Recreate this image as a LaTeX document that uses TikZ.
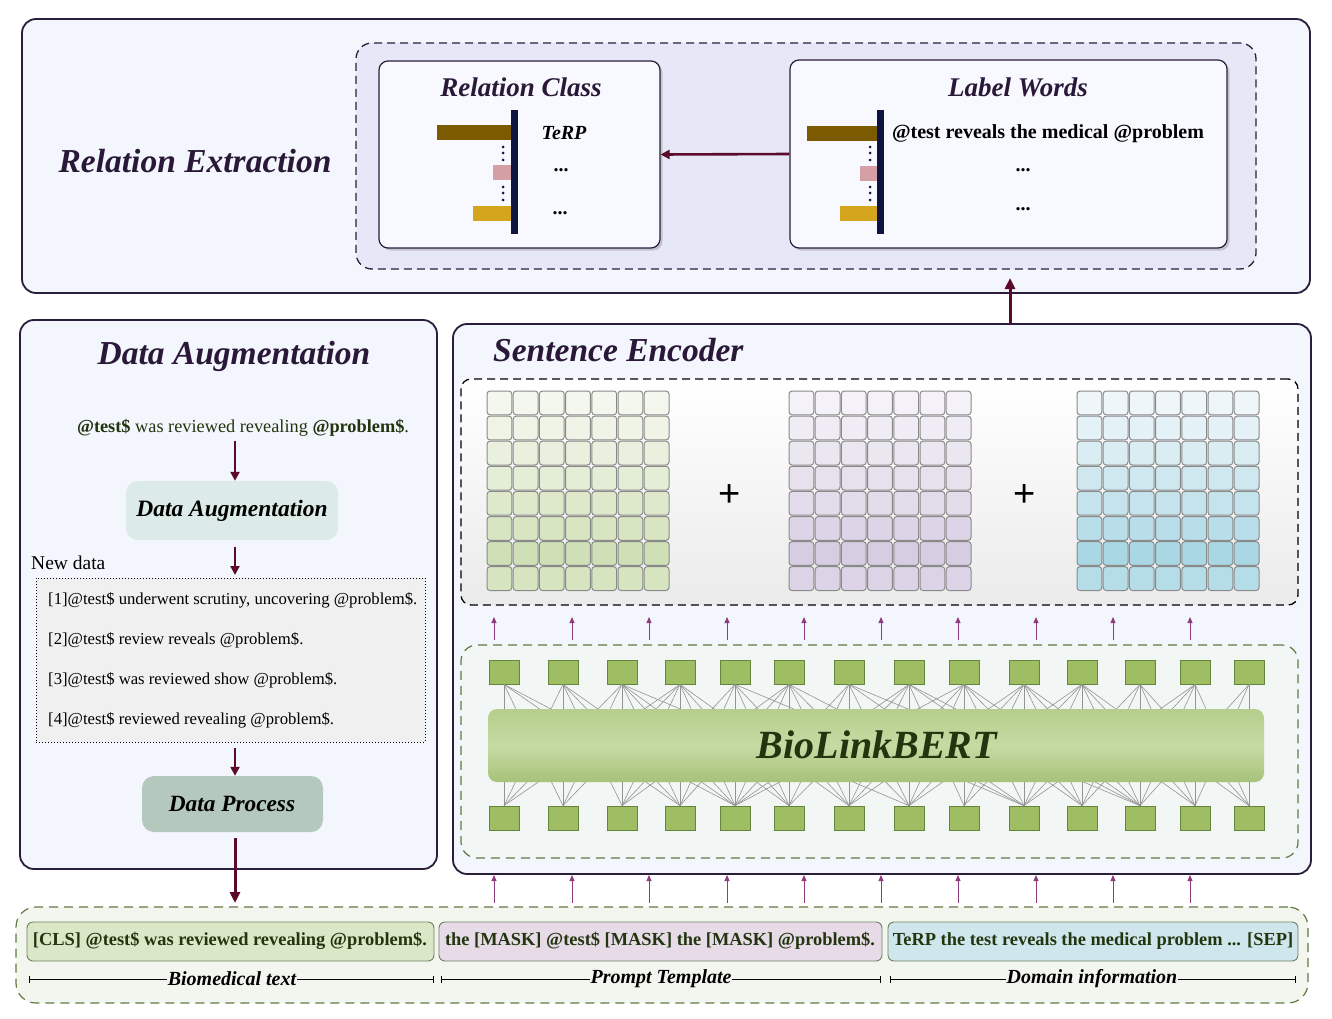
\documentclass[tikz,border=0pt]{standalone}
\usepackage{fontspec}
\setmainfont{Liberation Serif}
\newfontfamily\plusfont{Liberation Sans}
\usetikzlibrary{arrows.meta,shadows}

\definecolor{panelline}{HTML}{2B1D3C}
\definecolor{panelfill}{HTML}{F4F6FD}
\definecolor{lavender}{HTML}{E6E8F7}
\definecolor{cardfill}{HTML}{F8F9FE}
\definecolor{titlecol}{HTML}{2A1838}
\definecolor{maroon}{HTML}{5C0A2A}
\definecolor{arrowpurple}{HTML}{8E3C7E}
\definecolor{brownbar}{HTML}{7B5A00}
\definecolor{pinkbar}{HTML}{D4A0A6}
\definecolor{goldbar}{HTML}{D6A51E}
\definecolor{navybar}{HTML}{0D1440}
\definecolor{sqfill}{HTML}{9FBD63}
\definecolor{sqline}{HTML}{66853C}
\definecolor{bertmid}{HTML}{C6DAA3}
\definecolor{berttop}{HTML}{B5CE8C}
\definecolor{bertbot}{HTML}{A6C279}
\definecolor{textgreen}{HTML}{22350F}
\definecolor{dabox}{HTML}{DCEBE7}
\definecolor{dpbox}{HTML}{B4C8BD}
\definecolor{dotfill}{HTML}{F0F0F0}
\definecolor{botfill}{HTML}{F3F6EE}
\definecolor{botline}{HTML}{5F7A45}
\definecolor{clsfill}{HTML}{DBE8C8}
\definecolor{promptfill}{HTML}{E7DBE7}
\definecolor{domainfill}{HTML}{CFE6EC}
\definecolor{tokline}{HTML}{6F7F5F}
\definecolor{encfill}{HTML}{F2F6F4}
\definecolor{gTop}{HTML}{F4F7EE}
\definecolor{gBot}{HTML}{D0E0B6}
\definecolor{pTop}{HTML}{F4F2F8}
\definecolor{pBot}{HTML}{D7CDE2}
\definecolor{bTop}{HTML}{EEF6FA}
\definecolor{bBot}{HTML}{A9D7E4}
\definecolor{cellline}{HTML}{8A8A8A}

\newcommand\RB[6]{\node[#1, minimum width={(#4)-(#2)}, minimum height={(#5)-(#3)}, inner sep=0pt] (#6) at ({((#2)+(#4))/2},{((#3)+(#5))/2}) {};}
\newcommand\cellgrid[4]{%
 \foreach \r/\p in {0/0,1/15,2/30,3/45,4/60,5/78,6/100,7/82}{%
  \foreach \c in {0,...,6}{%
   \filldraw[cell, fill=#4!\p!#3] ({#1+\c*26.2},{#2+\r*25.1}) rectangle ++(24.8,23.8);
  }}}

\begin{document}
\begin{tikzpicture}[x=1pt,y=-1pt,
  panel/.style={draw=panelline, line width=1.8pt, fill=panelfill, rounded corners=14pt},
  card/.style={draw=panelline, line width=1.2pt, fill=cardfill, rounded corners=9pt,
     drop shadow={shadow xshift=2.5pt, shadow yshift=-2.5pt, opacity=0.35, fill=gray}},
  bigtitle/.style={font=\fontsize{33.5}{38}\selectfont\bfseries\itshape, text=titlecol, inner sep=0pt},
  cardtitle/.style={font=\fontsize{27}{31}\selectfont\bfseries\itshape, text=titlecol, inner sep=0pt},
  bigarrow/.style={draw=maroon, line width=3pt, -{Triangle[length=11pt,width=10pt]}},
  midarrow/.style={draw=maroon, line width=2.6pt, -{Triangle[length=9pt,width=9pt]}},
  smallarr/.style={draw=arrowpurple, line width=0.9pt, -{Triangle[length=6pt,width=5pt]}},
  cell/.style={draw=cellline, line width=1pt, rounded corners=3pt},
  tok/.style={draw=sqline, line width=0.8pt, fill=sqfill, minimum width=30pt, minimum height=24pt, inner sep=0pt},
  conn/.style={draw=gray!85, line width=0.6pt},
  augline/.style={font=\fontsize{16.7}{19}\selectfont, text=black, anchor=west, inner sep=0pt},
  segbox/.style={draw=tokline, line width=0.9pt, rounded corners=6pt},
  segtext/.style={font=\fontsize{18.4}{21}\selectfont\bfseries, text=textgreen, inner sep=0pt},
  dimline/.style={draw=black, line width=0.8pt, {Bar[width=7pt]}-{Bar[width=7pt]}},
  dimlabel/.style={font=\fontsize{20}{23}\selectfont\bfseries\itshape, fill=botfill, inner sep=1pt, text=black},
  dots/.style={font=\fontsize{20}{22}\selectfont\bfseries, inner sep=0pt}
]
\path[fill=white] (0,0) rectangle (1332,1019);
\useasboundingbox (0,0) rectangle (1332,1019);

% ---------------- Relation Extraction ----------------
\RB{panel}{22}{19}{1310}{293}{rep}
\node[bigtitle] (retitle) at (195,161) {Relation Extraction};
\RB{draw=panelline, line width=1.3pt, dash pattern=on 8pt off 5pt, fill=lavender, rounded corners=16pt}{356}{43}{1256}{269}{redash}

\RB{card}{379}{61}{660}{248}{rc}
\node[cardtitle] (rctitle) at (521,87) {Relation Class};
\fill[brownbar] (437,125) rectangle (512,140);
\fill[pinkbar] (493,165) rectangle (512,180);
\fill[goldbar] (473,206) rectangle (512,221);
\fill[navybar] (511,110) rectangle (518,234);
\foreach \yy in {147,153,160,187,193,200} \fill[navybar] (503,\yy) circle (1.5pt);
\node[font=\fontsize{20}{23}\selectfont\bfseries\itshape, inner sep=0pt] (terp) at (564,133) {TeRP};
\node[dots] (rcd1) at (561,170) {...};
\node[dots] (rcd2) at (560,213) {...};

\RB{card}{790}{60}{1227}{248}{lw}
\node[cardtitle] (lwtitle) at (1018,87) {Label Words};
\fill[brownbar] (807,126) rectangle (877,141);
\fill[pinkbar] (860,166) rectangle (877,181);
\fill[goldbar] (840,206) rectangle (877,221);
\fill[navybar] (877,110) rectangle (884,234);
\foreach \yy in {147,153,160,187,193,200} \fill[navybar] (870,\yy) circle (1.5pt);
\node[font=\fontsize{20}{23}\selectfont\bfseries, inner sep=0pt] (lwtext) at (1048,134) {@test reveals the medical @problem};
\node[dots] (lwd1) at (1023,170) {...};
\node[dots] (lwd2) at (1023,209) {...};

\draw[midarrow] (lw.west) -- (rc.east);

% ---------------- Data Augmentation ----------------
\RB{panel}{20}{320}{437}{869}{dap}
\node[bigtitle] (datitle) at (234,356) {Data Augmentation};
\node[font=\fontsize{18.3}{21}\selectfont, text=textgreen, inner sep=0pt] (orig) at (243,428)
  {{\bfseries @test\$} was reviewed revealing {\bfseries @problem\$}.};
\RB{fill=dabox, rounded corners=12pt}{126}{481}{338}{540}{dabx}
\node[font=\fontsize{23.5}{27}\selectfont\bfseries\itshape, inner sep=0pt] (dabxt) at (232,511) {Data Augmentation};
\node[font=\fontsize{19.5}{22}\selectfont, anchor=west, inner sep=0pt] (newdata) at (31,563) {New data};
\RB{draw=black, line width=1pt, dotted, fill=dotfill}{36}{578}{425}{742}{newbox}
\node[augline] (n1) at (48,600) {[1]@test\$ underwent scrutiny, uncovering @problem\$.};
\node[augline] (n2) at (48,640) {[2]@test\$ review reveals @problem\$.};
\node[augline] (n3) at (48,680) {[3]@test\$ was reviewed show @problem\$.};
\node[augline] (n4) at (48,720) {[4]@test\$ reviewed revealing @problem\$.};
\RB{fill=dpbox, rounded corners=12pt}{142}{776}{323}{832}{dpbx}
\node[font=\fontsize{23.3}{27}\selectfont\bfseries\itshape, inner sep=0pt] (dpbxt) at (232,804) {Data Process};

\coordinate (a1s) at (235,441);
\draw[midarrow] (a1s) -- (dabx.north -| a1s);
\coordinate (a2s) at (235,547);
\coordinate (a2e) at (235,575);
\draw[midarrow] (a2s) -- (a2e);
\coordinate (a3s) at (235,748);
\draw[midarrow] (a3s) -- (dpbx.north -| a3s);
\coordinate (a4s) at (235,838);
\coordinate (a4e) at (235,903);
\draw[bigarrow] (a4s) -- (a4e);

% ---------------- Sentence Encoder ----------------
\RB{panel}{453}{324}{1311}{874}{sep}
\node[bigtitle, anchor=west] (setitle) at (493,350) {Sentence Encoder};
\RB{draw=black, line width=1.3pt, dash pattern=on 8pt off 5pt, rounded corners=10pt, top color=white, bottom color=black!8}{461}{379}{1298}{605}{embbox}
\cellgrid{487}{391}{gTop}{gBot}
\cellgrid{789}{391}{pTop}{pBot}
\cellgrid{1077}{391}{bTop}{bBot}
\node[font=\plusfont\fontsize{38}{40}\selectfont, inner sep=0pt] (plus1) at (730,496) {+};
\node[font=\plusfont\fontsize{38}{40}\selectfont, inner sep=0pt] (plus2) at (1025,496) {+};

\RB{draw=botline, line width=1.2pt, dash pattern=on 9pt off 6pt, fill=encfill, rounded corners=16pt}{461}{645}{1298}{858}{encbox}

\foreach \k/\xx in {1/504,2/563,3/622,4/680,5/735,6/789,7/849,8/909,9/964,10/1024,11/1082,12/1140,13/1195,14/1249}{
  \node[tok] (t\k) at (\xx,672) {};
  \node[tok] (b\k) at (\xx,818) {};
}
\foreach \i in {1,...,14}{
  \foreach \j in {1,...,14}{
    \pgfmathtruncatemacro\dd{abs(\i-\j)}
    \pgfmathtruncatemacro\rr{mod(\i*\i+3*\j+\i*\j,7)}
    \ifnum\dd<2 \draw[conn] (t\i.south) -- (b\j.north);\else
      \ifnum\dd<4 \ifnum\rr<5 \draw[conn] (t\i.south) -- (b\j.north);\fi\else
        \ifnum\dd<6 \ifnum\rr<2 \draw[conn] (t\i.south) -- (b\j.north);\fi\fi
      \fi
    \fi
  }
}
\RB{rounded corners=9pt, top color=berttop, bottom color=bertbot, middle color=bertmid}{488}{709}{1264}{782}{bert}
\node[font=\fontsize{40}{45}\selectfont\bfseries\itshape, text=textgreen, inner sep=0pt] (berttext) at (877,745) {BioLinkBERT};

\foreach \k/\xx in {1/494,2/572,3/649,4/727,5/804,6/881,7/958,8/1036,9/1113,10/1190}{
  \coordinate (ua\k) at (\xx,640);
  \coordinate (ub\k) at (\xx,617);
  \coordinate (la\k) at (\xx,903);
  \coordinate (lb\k) at (\xx,875);
  \draw[smallarr] (ua\k) -- (ub\k);
  \draw[smallarr] (la\k) -- (lb\k);
}

\coordinate (upa) at (1010,324);
\coordinate (upb) at (1010,278);
\draw[bigarrow] (upa) -- (upb);

% ---------------- Input sequence ----------------
\RB{draw=botline, line width=1.2pt, dash pattern=on 9pt off 6pt, fill=botfill, rounded corners=20pt}{16}{907}{1308}{1003}{inbox}
\RB{segbox, fill=clsfill}{27}{922}{434}{961}{cls}
\RB{segbox, fill=promptfill}{439}{922}{882}{961}{prm}
\RB{segbox, fill=domainfill}{888}{922}{1298}{961}{dom}
\node[segtext] (clst) at (230,941) {[CLS] @test\$ was reviewed revealing @problem\$.};
\node[segtext] (prmt) at (660,941) {the [MASK] @test\$ [MASK] the [MASK] @problem\$.};
\node[segtext] (domt) at (1093,941) {TeRP the test reveals the medical problem ... [SEP]};

\coordinate (d1a) at (29,979); \coordinate (d1b) at (434,979);
\coordinate (d2a) at (441,979); \coordinate (d2b) at (881,979);
\coordinate (d3a) at (890,979); \coordinate (d3b) at (1296,979);
\draw[dimline] (d1a) -- (d1b);
\draw[dimline] (d2a) -- (d2b);
\draw[dimline] (d3a) -- (d3b);
\node[dimlabel] (l1) at (232,979) {Biomedical text};
\node[dimlabel] (l2) at (661,979) {Prompt Template};
\node[dimlabel] (l3) at (1092,979) {Domain information};
\end{tikzpicture}
\end{document}
